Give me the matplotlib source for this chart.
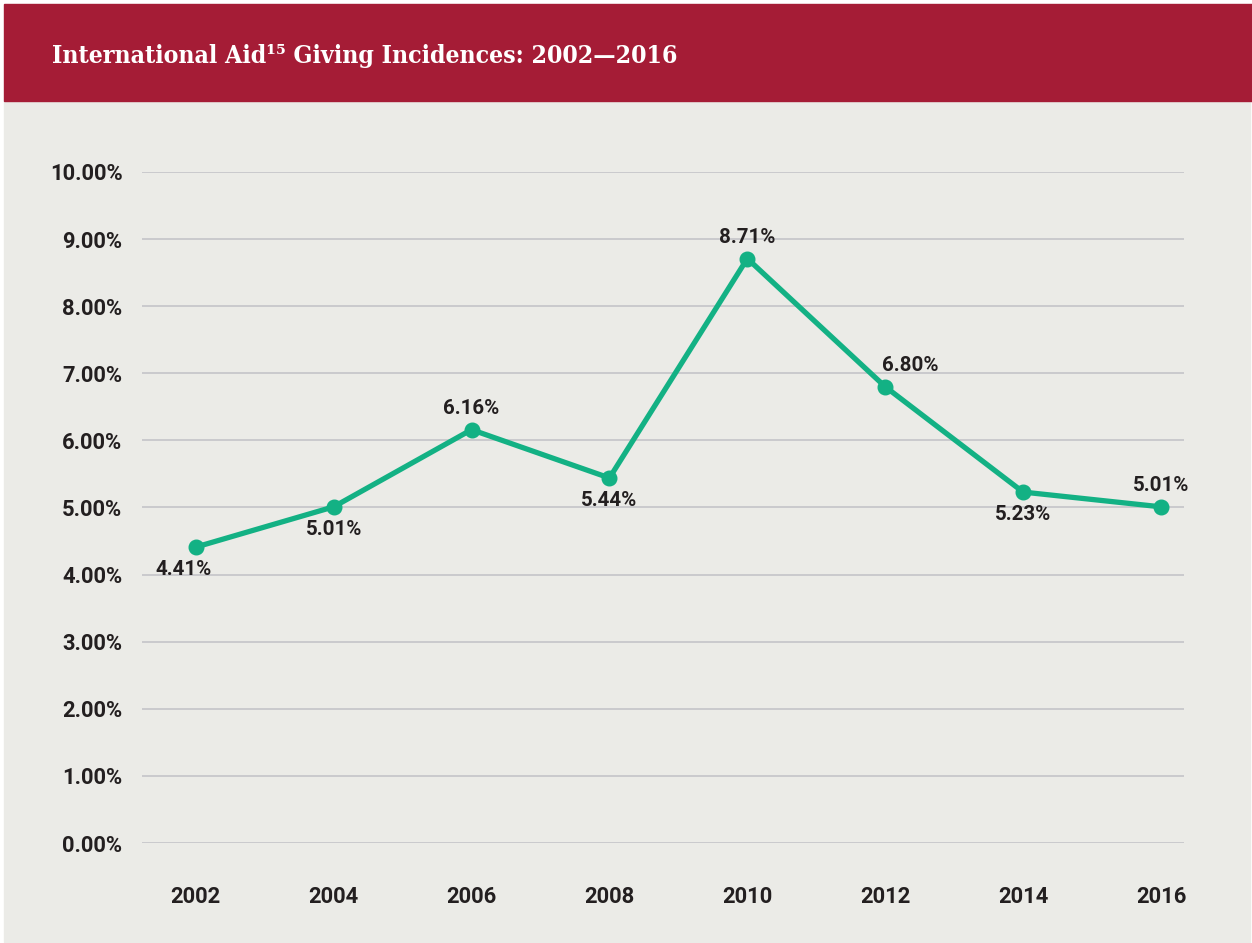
import matplotlib
matplotlib.use("Agg")
import matplotlib.pyplot as plt
from matplotlib.patches import Rectangle

# data
years = ["2002", "2004", "2006", "2008", "2010", "2012", "2014", "2016"]
rates = [4.41, 5.01, 6.16, 5.44, 8.71, 6.80, 5.23, 5.01]
labels = ["4.41%", "5.01%", "6.16%", "5.44%", "8.71%", "6.80%", "5.23%", "5.01%"]
# label offsets in points (dx, dy)
offsets = [(-9, -16), (0, -16), (0, 15), (0, -16), (0, 15), (18, 15), (0, -16), (0, 15)]
yticks = [0, 1, 2, 3, 4, 5, 6, 7, 8, 9, 10]
ytick_labels = ["%.2f%%" % v for v in yticks]

W, H = 1252, 943
fig = plt.figure(figsize=(W / 100, H / 100), dpi=100, facecolor="white")

# background panels (figure pixel coordinates)
fig.add_artist(Rectangle((4 / W, (H - 942) / H), (W - 6) / W, (942 - 101) / H,
                         transform=fig.transFigure, color="#EBEBE7", zorder=-5))
fig.add_artist(Rectangle((4 / W, (H - 101) / H), (W - 4) / W, 97 / H,
                         transform=fig.transFigure, color="#A51C36", zorder=-5))
fig.text(52 / W, 1 - 56 / H, "International Aid\u00b9\u2075 Giving Incidences: 2002\u20142016",
         color="white", fontsize=17.8, fontweight="heavy", family="DejaVu Serif",
         fontstretch="condensed", va="center", ha="left")

ax = fig.add_axes([142 / W, 1 - 843 / H, (1184 - 142) / W, (843 - 172) / H])
ax.set_facecolor("none")

x = list(range(len(years)))
ax.plot(x, rates, color="#13B184", lw=3.8, marker="o", ms=10.5, zorder=3,
        solid_capstyle="round")
for xi, yi, lab, (dx, dy) in zip(x, rates, labels, offsets):
    ax.annotate(lab, (xi, yi), xytext=(dx, dy), textcoords="offset points",
                ha="center", va="center", fontsize=14.8, fontweight="bold",
                family="Roboto", color="#231F20")

ax.set_ylim(0, 10)
ax.set_xlim(-0.39, 7.167)
ax.set_yticks(yticks)
ax.set_yticklabels(ytick_labels)
ax.set_xticks(x)
ax.set_xticklabels(years)
ax.grid(axis="y", color="#C4C4C8", lw=1.2)
ax.set_axisbelow(True)
for s in ax.spines.values():
    s.set_visible(False)
ax.tick_params(axis="both", length=0, labelcolor="#231F20")
ax.tick_params(axis="y", pad=14)
ax.tick_params(axis="x", pad=31)
for t in ax.get_yticklabels() + ax.get_xticklabels():
    t.set_fontsize(15.8)
    t.set_fontweight("bold")
    t.set_family("Roboto")

fig.savefig("out.png", dpi=100, facecolor="white")
